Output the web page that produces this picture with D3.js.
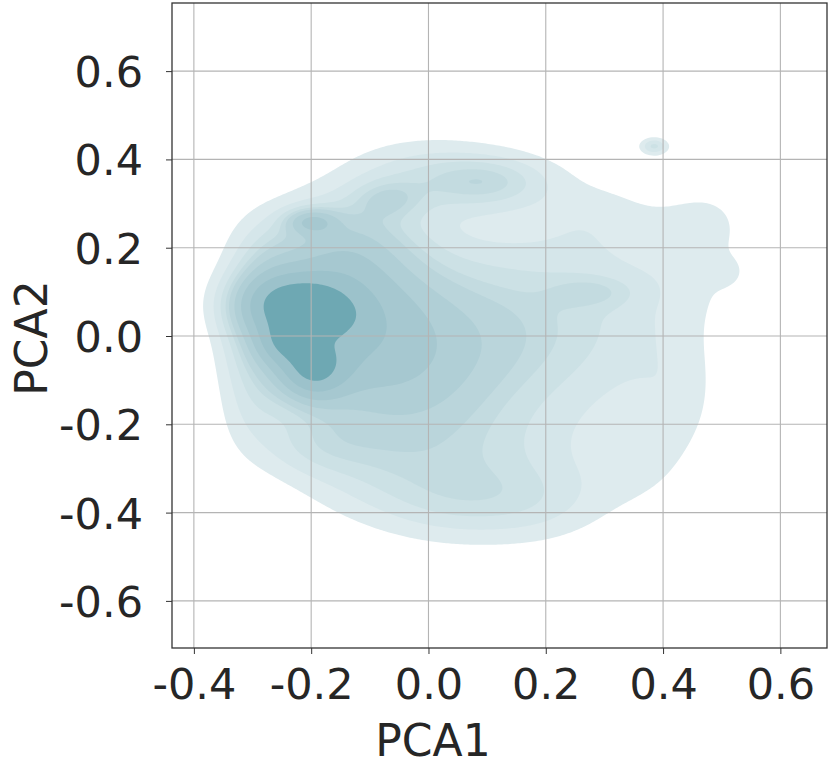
<!DOCTYPE html>
<html><head><meta charset="utf-8">
<script src="https://cdn.jsdelivr.net/npm/d3@7"></script>
<style>
body{margin:0;background:#fff;}
svg text{font-family:"DejaVu Sans",sans-serif;fill:#262626;}
</style></head>
<body><svg id="chart" width="830" height="768"></svg>
<script>
// ---- data: kernel components (PCA1, PCA2 space)
const compX  = [-0.235,-0.180,-0.200,-0.200,-0.180,-0.100,-0.050,-0.150,-0.070, 0.110, 0.000, 0.100, 0.280, 0.300, 0.450, 0.510, 0.420, 0.100,-0.100, 0.385,-0.250,-0.300,-0.270,-0.300,-0.200, 0.050, 0.200, 0.350, 0.270, 0.490];
const compY  = [ 0.074, 0.045,-0.078, 0.260, 0.000, 0.080,-0.100, 0.220, 0.310, 0.350, 0.360, 0.000, 0.100, 0.050, 0.200, 0.145,-0.150,-0.300,-0.300, 0.430,-0.015, 0.000, 0.170,-0.180,-0.250,-0.380,-0.380,-0.300, 0.270, 0.260];
const compSX = [ 0.064, 0.030, 0.040, 0.030, 0.080, 0.100, 0.100, 0.090, 0.040, 0.070, 0.100, 0.120, 0.050, 0.120, 0.060, 0.022, 0.050, 0.120, 0.100, 0.016, 0.030, 0.040, 0.040, 0.040, 0.070, 0.100, 0.080, 0.060, 0.060, 0.040];
const compSY = [ 0.050, 0.025, 0.047, 0.020, 0.120, 0.100, 0.120, 0.070, 0.030, 0.040, 0.060, 0.150, 0.025, 0.180, 0.100, 0.025, 0.100, 0.100, 0.080, 0.013, 0.035, 0.120, 0.060, 0.060, 0.050, 0.060, 0.060, 0.070, 0.050, 0.050];
const compW  = [ 0.850, 0.400, 0.700, 0.400, 0.500, 0.400, 0.400, 0.350, 0.200, 0.250, 0.250, 0.350, 0.150, 0.200, 0.080, 0.070, 0.100, 0.200, 0.150, 0.300, 0.450, 0.250, 0.120, 0.070, 0.150, 0.150, 0.100, 0.080, 0.060, 0.050];
const isoLevels = [0.05,0.1556,0.2611,0.3667,0.4722,0.5778,0.6833,0.7889,0.875];
const bandColors = ["#deebee","#d5e6ea","#cce1e5","#c3dbe0","#bad5db","#b0cfd6","#a6c8d0","#9cc2cb","#6ea8b3"];
const xTicks = [-0.4,-0.2,0.0,0.2,0.4,0.6];
const yTicks = [-0.6,-0.4,-0.2,0.0,0.2,0.4,0.6];
const xLabel = "PCA1", yLabel = "PCA2";

const L=172, R=827, T=3, B=648;
const x = d3.scaleLinear().domain([-0.4373,0.6795]).range([L,R]);
const y = d3.scaleLinear().domain([-0.7067,0.7543]).range([B,T]);
const svg = d3.select("#chart");

// density grid
const step=2, nx=Math.ceil((R-L)/step)+1, ny=Math.ceil((B-T)/step)+1;
const vals = new Float64Array(nx*ny);
for(let j=0;j<ny;j++){const yv=y.invert(T+j*step);
  for(let i=0;i<nx;i++){const xv=x.invert(L+i*step);let s=0;
    for(let k=0;k<compX.length;k++){const dx=(xv-compX[k])/compSX[k],dy=(yv-compY[k])/compSY[k];
      s+=compW[k]*Math.exp(-0.5*(dx*dx+dy*dy));}
    vals[j*nx+i]=s;}}
const sorted=Array.from(vals).sort((a,b)=>b-a);
const total=d3.sum(sorted);
let cum=0;const cums=sorted.map(v=>(cum+=v)/total);
const thresholds=isoLevels.map(q=>sorted[Math.min(sorted.length-1,d3.bisectLeft(cums,1-q))]);
const contours=d3.contours().size([nx,ny]).thresholds(thresholds)(vals);
const proj=d3.geoTransform({point:function(px,py){this.stream.point(L+px*step-step/2,T+py*step-step/2);}});
const path=d3.geoPath(proj);
svg.append("clipPath").attr("id","clip").append("rect").attr("x",L).attr("y",T).attr("width",R-L).attr("height",B-T);
svg.append("g").attr("clip-path","url(#clip)").selectAll("path").data(contours).join("path")
  .attr("d",path).attr("fill",(d,i)=>bandColors[i]).attr("stroke","none");

// grid
const g=svg.append("g");
g.selectAll(".vx").data(xTicks).join("line").attr("x1",d=>x(d)).attr("x2",d=>x(d)).attr("y1",T).attr("y2",B).attr("stroke","#b4b4b4").attr("stroke-width",1.1);
g.selectAll(".hy").data(yTicks).join("line").attr("y1",d=>y(d)).attr("y2",d=>y(d)).attr("x1",L).attr("x2",R).attr("stroke","#b4b4b4").attr("stroke-width",1.1);

const fmt=d=>d3.format(".1f")(d).replace("−","-");
const xa=svg.append("g").attr("transform",`translate(0,${B})`).call(d3.axisBottom(x).tickValues(xTicks).tickFormat(fmt).tickSize(6).tickPadding(14));
const ya=svg.append("g").attr("transform",`translate(${L},0)`).call(d3.axisLeft(y).tickValues(yTicks).tickFormat(fmt).tickSize(6).tickPadding(23));
[xa,ya].forEach(a=>{a.select(".domain").remove();a.selectAll("line").attr("stroke","#333");a.selectAll("text").attr("font-size",43).attr("fill","#262626");});
ya.selectAll("text").attr("dy","0.36em");
svg.append("rect").attr("x",L).attr("y",T).attr("width",R-L).attr("height",B-T).attr("fill","none").attr("stroke","#333").attr("stroke-width",1.3);
svg.append("text").attr("x",433).attr("y",756).attr("text-anchor","middle").attr("font-size",44).text(xLabel);
svg.append("text").attr("transform",`translate(47,338) rotate(-90)`).attr("text-anchor","middle").attr("font-size",44).text(yLabel);
</script></body></html>
